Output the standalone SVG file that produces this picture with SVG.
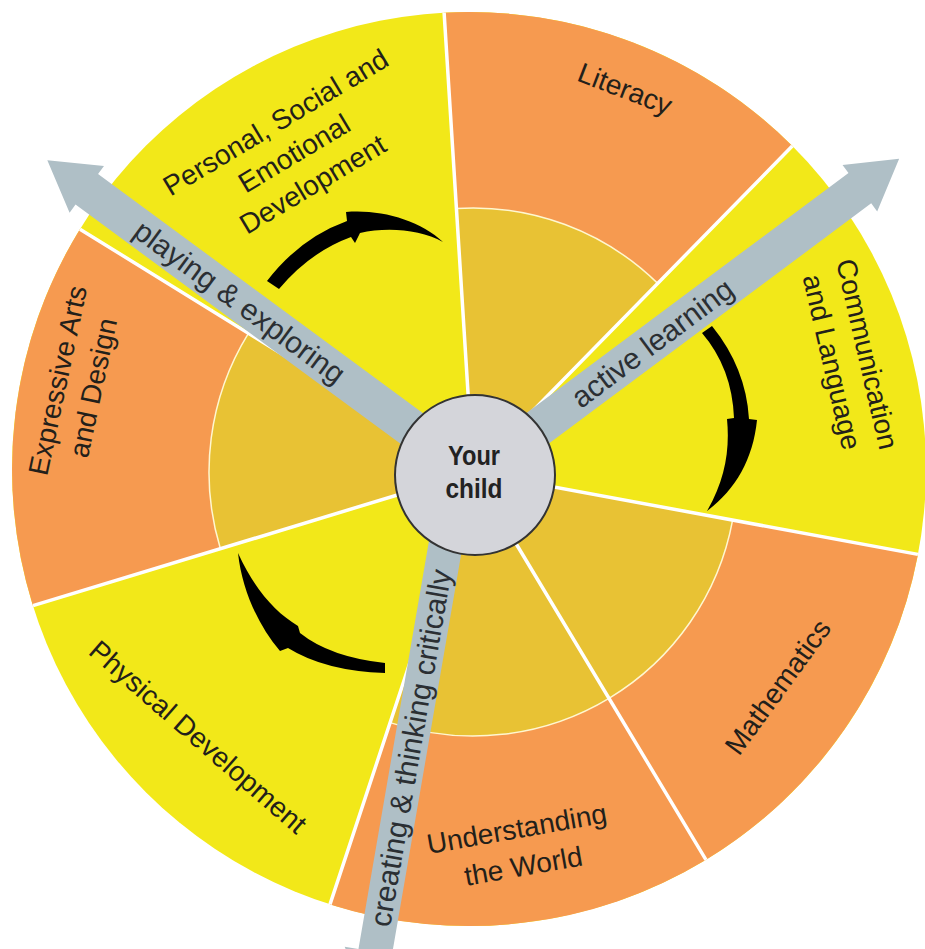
<svg xmlns="http://www.w3.org/2000/svg" width="925" height="949" viewBox="0 0 925 949">
<style>
.yel{fill:#F2E819}
.org{fill:#F69A50}
.gld{fill:#E8C234}
.sep{stroke:#FFFFFF;stroke-width:3.5;fill:none}
.arc{stroke:#FFF7D0;stroke-width:1.5;fill:none}
.ga{fill:#AFBFC6}
.blk{fill:#000000}
.lbl{font-family:"Liberation Sans",Arial,sans-serif;font-size:28px;fill:#231F1A;text-anchor:middle;dominant-baseline:central}
.alb{font-family:"Liberation Sans",Arial,sans-serif;font-size:30px;fill:#2B2F33;text-anchor:middle;dominant-baseline:central}
.ctr{font-family:"Liberation Sans",Arial,sans-serif;font-size:28px;font-weight:bold;fill:#222;text-anchor:middle}
</style>
<rect width="925" height="949" fill="#FFFFFF"/>
<g id="wheel">
  <circle class="yel" cx="469" cy="469" r="457"/>
</g>
<g id="psed"><text class="lbl" transform="translate(294,153) rotate(-31)"><tspan x="0" dy="-36">Personal, Social and</tspan><tspan x="0" dy="36">Emotional</tspan><tspan x="0" dy="36">Development</tspan></text></g>
<g id="literacy">
  <path class="org" d="M473,472 L444.1,12.7 A457,457 0 0 1 792.3,146 Z"/>
  <path class="gld" d="M473,472 L456.4,208.5 A264,264 0 0 1 657.7,283.4 Z"/>
  <path class="arc" d="M456.4,208.5 A264,264 0 0 1 657.7,283.4"/>
  <text class="lbl" transform="translate(625,89) rotate(21)">Literacy</text>
</g>
<g id="communication"><text class="lbl" transform="translate(850,358) rotate(77)"><tspan x="0" dy="-18">Communication</tspan><tspan x="0" dy="36">and Language</tspan></text></g>
<g id="mathematics">
  <path class="org" d="M473,472 L917.9,554.4 A457,457 0 0 1 706,859.8 Z"/>
  <path class="gld" d="M473,472 L732.6,520.1 A264,264 0 0 1 609,698.3 Z"/>
  <path class="arc" d="M732.6,520.1 A264,264 0 0 1 609,698.3"/>
  <text class="lbl" transform="translate(778,687) rotate(-54)">Mathematics</text>
</g>
<g id="understanding">
  <path class="org" d="M473,472 L706,859.8 A457,457 0 0 1 330,904.4 Z"/>
  <path class="gld" d="M473,472 L609,698.3 A264,264 0 0 1 390.1,722.6 Z"/>
  <path class="arc" d="M609,698.3 A264,264 0 0 1 390.1,722.6"/>
  <text class="lbl" transform="translate(520,847) rotate(-10)"><tspan x="0" dy="-19">Understanding</tspan><tspan x="0" dy="38">the World</tspan></text>
</g>
<g id="physical"><text class="lbl" transform="translate(198,737) rotate(41)">Physical Development</text></g>
<g id="expressive">
  <path class="org" d="M473,472 L33,605.7 A457,457 0 0 1 80,229.2 Z"/>
  <path class="gld" d="M473,472 L220.4,548.7 A264,264 0 0 1 248.4,333.3 Z"/>
  <path class="arc" d="M220.4,548.7 A264,264 0 0 1 248.4,333.3"/>
  <text class="lbl" transform="translate(75,384) rotate(-78)"><tspan x="0" dy="-18">Expressive Arts</tspan><tspan x="0" dy="36">and Design</tspan></text>
</g>
<g id="connectors">
  <path class="sep" d="M473,472 L444.1,12.7 M473,472 L792.3,146 M473,472 L917.9,554.4 M473,472 L706,859.8 M473,472 L330,904.4 M473,472 L33,605.7 M473,472 L80,229.2"/>
  <path class="blk" d="M267,281 Q300,238 347,221 L346,212 C380,209 420,220 443,242 C420,229 386,227 360,233 L355,243 L351,237 Q310,252 279,289 Z"/>
  <path class="blk" d="M702,333 L712,326 Q746,368 749,419 L757,420 C753,460 735,490 707,511 C725,480 730,450 727,419 L734,418 Q732,368 702,333 Z"/>
  <path class="blk" d="M385,663 Q330,657 300,633 L298,626 C275,612 255,590 238,553 C242,590 258,625 280,651 L288,648 Q325,671 385,673 Z"/>
  <polygon class="ga" transform="translate(475,475) rotate(216.35)" points="0,-19 482,-19 482,-29 531,0 482,29 482,19 0,19"/>
  <polygon class="ga" transform="translate(475,475) rotate(-36.7)" points="0,-19 480,-19 480,-29 529,0 480,29 480,19 0,19"/>
  <polygon class="ga" transform="translate(457.6,475) rotate(99.8)" points="0,-17 484,-17 484,-31 534,0 484,31 484,17 0,17"/>
  <text class="alb" transform="translate(475,475) rotate(36.35)" x="-292" y="0">playing &amp; exploring</text>
  <text class="alb" transform="translate(475,475) rotate(-36.7)" x="221" y="0">active learning</text>
  <text class="alb" transform="translate(457.6,475) rotate(-80.2)" x="-277" y="0">creating &amp; thinking critically</text>
</g>
<g id="your-child">
  <circle cx="475" cy="475" r="80" fill="#D4D5DA" stroke="#333333" stroke-width="2"/>
  <text class="ctr" x="474" y="465" textLength="52" lengthAdjust="spacingAndGlyphs">Your</text>
  <text class="ctr" x="474" y="498" textLength="57" lengthAdjust="spacingAndGlyphs">child</text>
</g>
</svg>
